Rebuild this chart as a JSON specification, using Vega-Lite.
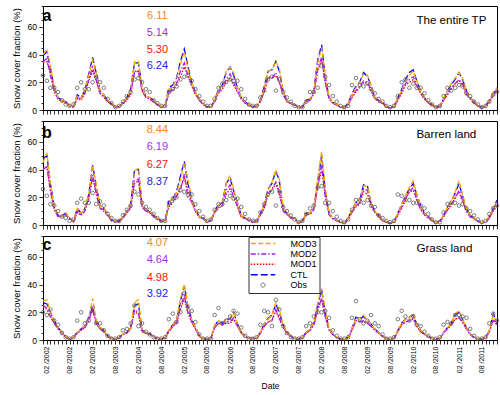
{
"$schema":"https://vega.github.io/schema/vega-lite/v6.json",
"padding":{"left":10,"top":5,"right":2,"bottom":0},
"config":{"font":"Liberation Sans","view":{"stroke":"#000","strokeWidth":1},"axis":{"domainColor":"#000","tickColor":"#000","labelColor":"#000","titleColor":"#000","titleFontWeight":"normal","grid":false,"tickWidth":0.8,"domainWidth":1},"axisY":{"labelOverlap":false,"labelBound":false,"labelFlush":false},"concat":{"spacing":5}},
"datasets":{
"nums":[
{"p":"a","series":"MOD3","t":"6.11","v":67.5},{"p":"a","series":"MOD2","t":"5.14","v":55.5},{"p":"a","series":"MOD1","t":"5.30","v":43.5},{"p":"a","series":"CTL","t":"6.24","v":31.5},
{"p":"b","series":"MOD3","t":"8.44","v":68.5},{"p":"b","series":"MOD2","t":"6.19","v":56},{"p":"b","series":"MOD1","t":"6.27","v":43.5},{"p":"b","series":"CTL","t":"8.37","v":31},
{"p":"c","series":"MOD3","t":"4.07","v":70},{"p":"c","series":"MOD2","t":"4.64","v":57.5},{"p":"c","series":"MOD1","t":"4.98","v":45},{"p":"c","series":"CTL","t":"3.92","v":33}
],
"main":[
{"p":"a","d":"2002-01","MOD3":40,"MOD2":35,"MOD1":34,"CTL":39,"Obs":25},
{"p":"a","d":"2002-02","MOD3":44,"MOD2":37,"MOD1":35,"CTL":42,"Obs":21},
{"p":"a","d":"2002-03","MOD3":32,"MOD2":25,"MOD1":27,"CTL":30,"Obs":16},
{"p":"a","d":"2002-04","MOD3":17,"MOD2":14,"MOD1":13,"CTL":16,"Obs":16},
{"p":"a","d":"2002-05","MOD3":9,"MOD2":8,"MOD1":8,"CTL":9,"Obs":13},
{"p":"a","d":"2002-06","MOD3":7,"MOD2":6.5,"MOD1":6,"CTL":7,"Obs":7},
{"p":"a","d":"2002-07","MOD3":6,"MOD2":5.5,"MOD1":5,"CTL":6,"Obs":4},
{"p":"a","d":"2002-08","MOD3":3,"MOD2":3,"MOD1":3,"CTL":3,"Obs":3},
{"p":"a","d":"2002-09","MOD3":2,"MOD2":2,"MOD1":2,"CTL":2,"Obs":4},
{"p":"a","d":"2002-10","MOD3":10,"MOD2":9,"MOD1":8,"CTL":11,"Obs":16},
{"p":"a","d":"2002-11","MOD3":9,"MOD2":8,"MOD1":7,"CTL":9,"Obs":20},
{"p":"a","d":"2002-12","MOD3":14,"MOD2":12,"MOD1":12,"CTL":14,"Obs":15},
{"p":"a","d":"2003-01","MOD3":25,"MOD2":22,"MOD1":21,"CTL":26,"Obs":15},
{"p":"a","d":"2003-02","MOD3":36,"MOD2":31,"MOD1":28,"CTL":38,"Obs":20},
{"p":"a","d":"2003-03","MOD3":27,"MOD2":22,"MOD1":21,"CTL":27,"Obs":24},
{"p":"a","d":"2003-04","MOD3":14,"MOD2":12,"MOD1":12,"CTL":14,"Obs":20},
{"p":"a","d":"2003-05","MOD3":11,"MOD2":10,"MOD1":9,"CTL":11,"Obs":16},
{"p":"a","d":"2003-06","MOD3":7,"MOD2":6,"MOD1":6,"CTL":7,"Obs":8},
{"p":"a","d":"2003-07","MOD3":4.5,"MOD2":4,"MOD1":4,"CTL":4.5,"Obs":5},
{"p":"a","d":"2003-08","MOD3":2.5,"MOD2":2,"MOD1":2,"CTL":2.5,"Obs":2},
{"p":"a","d":"2003-09","MOD3":2.5,"MOD2":2,"MOD1":2,"CTL":2.5,"Obs":3},
{"p":"a","d":"2003-10","MOD3":5.5,"MOD2":5,"MOD1":4.5,"CTL":5.5,"Obs":6},
{"p":"a","d":"2003-11","MOD3":9,"MOD2":8,"MOD1":7,"CTL":9,"Obs":10},
{"p":"a","d":"2003-12","MOD3":14,"MOD2":12,"MOD1":11,"CTL":15,"Obs":13},
{"p":"a","d":"2004-01","MOD3":35,"MOD2":27,"MOD1":28,"CTL":34,"Obs":22},
{"p":"a","d":"2004-02","MOD3":35,"MOD2":28,"MOD1":28,"CTL":34,"Obs":23},
{"p":"a","d":"2004-03","MOD3":16,"MOD2":14,"MOD1":14,"CTL":16,"Obs":20},
{"p":"a","d":"2004-04","MOD3":10,"MOD2":9,"MOD1":9,"CTL":10,"Obs":15},
{"p":"a","d":"2004-05","MOD3":9,"MOD2":8,"MOD1":8,"CTL":9,"Obs":13},
{"p":"a","d":"2004-06","MOD3":7,"MOD2":6,"MOD1":6,"CTL":7,"Obs":7},
{"p":"a","d":"2004-07","MOD3":4,"MOD2":3.5,"MOD1":3.5,"CTL":4,"Obs":5},
{"p":"a","d":"2004-08","MOD3":2.5,"MOD2":2,"MOD1":2,"CTL":2.5,"Obs":3},
{"p":"a","d":"2004-09","MOD3":3,"MOD2":2.5,"MOD1":2.5,"CTL":3,"Obs":3},
{"p":"a","d":"2004-10","MOD3":15,"MOD2":13,"MOD1":12,"CTL":16,"Obs":13},
{"p":"a","d":"2004-11","MOD3":17,"MOD2":15,"MOD1":14,"CTL":18,"Obs":15},
{"p":"a","d":"2004-12","MOD3":22,"MOD2":19,"MOD1":18,"CTL":23,"Obs":17},
{"p":"a","d":"2005-01","MOD3":33,"MOD2":28,"MOD1":24,"CTL":35,"Obs":22},
{"p":"a","d":"2005-02","MOD3":42,"MOD2":34,"MOD1":31,"CTL":44,"Obs":24},
{"p":"a","d":"2005-03","MOD3":30,"MOD2":25,"MOD1":25,"CTL":32,"Obs":25},
{"p":"a","d":"2005-04","MOD3":20,"MOD2":18,"MOD1":17,"CTL":20,"Obs":21},
{"p":"a","d":"2005-05","MOD3":13,"MOD2":12,"MOD1":11,"CTL":13,"Obs":15},
{"p":"a","d":"2005-06","MOD3":8,"MOD2":7,"MOD1":7,"CTL":8,"Obs":10},
{"p":"a","d":"2005-07","MOD3":4.5,"MOD2":4,"MOD1":4,"CTL":4.5,"Obs":6},
{"p":"a","d":"2005-08","MOD3":2.5,"MOD2":2,"MOD1":2,"CTL":2.5,"Obs":3},
{"p":"a","d":"2005-09","MOD3":2,"MOD2":2,"MOD1":2,"CTL":2,"Obs":3},
{"p":"a","d":"2005-10","MOD3":7,"MOD2":6,"MOD1":6,"CTL":7,"Obs":8},
{"p":"a","d":"2005-11","MOD3":14,"MOD2":13,"MOD1":12,"CTL":15,"Obs":16},
{"p":"a","d":"2005-12","MOD3":18,"MOD2":16,"MOD1":15,"CTL":18,"Obs":19},
{"p":"a","d":"2006-01","MOD3":28,"MOD2":22,"MOD1":20,"CTL":27,"Obs":20},
{"p":"a","d":"2006-02","MOD3":31,"MOD2":26,"MOD1":23,"CTL":31,"Obs":22},
{"p":"a","d":"2006-03","MOD3":27,"MOD2":20,"MOD1":18,"CTL":25,"Obs":21},
{"p":"a","d":"2006-04","MOD3":16,"MOD2":14,"MOD1":13,"CTL":16,"Obs":21},
{"p":"a","d":"2006-05","MOD3":9,"MOD2":8,"MOD1":8,"CTL":9,"Obs":15},
{"p":"a","d":"2006-06","MOD3":6,"MOD2":5,"MOD1":5,"CTL":6,"Obs":8},
{"p":"a","d":"2006-07","MOD3":4,"MOD2":3.5,"MOD1":3.5,"CTL":4,"Obs":4},
{"p":"a","d":"2006-08","MOD3":2.5,"MOD2":2,"MOD1":2,"CTL":2.5,"Obs":3},
{"p":"a","d":"2006-09","MOD3":3,"MOD2":2.5,"MOD1":2.5,"CTL":3,"Obs":3},
{"p":"a","d":"2006-10","MOD3":7,"MOD2":6,"MOD1":6,"CTL":7,"Obs":9},
{"p":"a","d":"2006-11","MOD3":16,"MOD2":14,"MOD1":13,"CTL":17,"Obs":14},
{"p":"a","d":"2006-12","MOD3":28,"MOD2":24,"MOD1":23,"CTL":28,"Obs":22},
{"p":"a","d":"2007-01","MOD3":29,"MOD2":23,"MOD1":23,"CTL":29,"Obs":24},
{"p":"a","d":"2007-02","MOD3":35,"MOD2":27,"MOD1":25,"CTL":35,"Obs":14},
{"p":"a","d":"2007-03","MOD3":30,"MOD2":20,"MOD1":20,"CTL":28,"Obs":22},
{"p":"a","d":"2007-04","MOD3":13,"MOD2":11,"MOD1":11,"CTL":13,"Obs":13},
{"p":"a","d":"2007-05","MOD3":7,"MOD2":6,"MOD1":6,"CTL":7,"Obs":9},
{"p":"a","d":"2007-06","MOD3":5,"MOD2":4.5,"MOD1":4.5,"CTL":5,"Obs":6},
{"p":"a","d":"2007-07","MOD3":4,"MOD2":3.5,"MOD1":3.5,"CTL":4,"Obs":3},
{"p":"a","d":"2007-08","MOD3":2,"MOD2":2,"MOD1":2,"CTL":2,"Obs":2},
{"p":"a","d":"2007-09","MOD3":2.5,"MOD2":2,"MOD1":2,"CTL":2.5,"Obs":2},
{"p":"a","d":"2007-10","MOD3":7,"MOD2":6,"MOD1":6,"CTL":7,"Obs":6},
{"p":"a","d":"2007-11","MOD3":8,"MOD2":7,"MOD1":7,"CTL":8,"Obs":13},
{"p":"a","d":"2007-12","MOD3":14,"MOD2":12,"MOD1":12,"CTL":14,"Obs":13},
{"p":"a","d":"2008-01","MOD3":34,"MOD2":30,"MOD1":28,"CTL":36,"Obs":16},
{"p":"a","d":"2008-02","MOD3":45,"MOD2":38,"MOD1":36,"CTL":47,"Obs":32},
{"p":"a","d":"2008-03","MOD3":26,"MOD2":20,"MOD1":20,"CTL":24,"Obs":24},
{"p":"a","d":"2008-04","MOD3":9,"MOD2":8,"MOD1":8,"CTL":9,"Obs":18},
{"p":"a","d":"2008-05","MOD3":5.5,"MOD2":5,"MOD1":5,"CTL":5.5,"Obs":10},
{"p":"a","d":"2008-06","MOD3":4,"MOD2":3.5,"MOD1":3.5,"CTL":4,"Obs":6},
{"p":"a","d":"2008-07","MOD3":2.5,"MOD2":2,"MOD1":2,"CTL":2.5,"Obs":3},
{"p":"a","d":"2008-08","MOD3":2,"MOD2":1.5,"MOD1":1.5,"CTL":2,"Obs":2},
{"p":"a","d":"2008-09","MOD3":5,"MOD2":4,"MOD1":4,"CTL":5,"Obs":3},
{"p":"a","d":"2008-10","MOD3":11,"MOD2":10,"MOD1":9,"CTL":12,"Obs":18},
{"p":"a","d":"2008-11","MOD3":16,"MOD2":14,"MOD1":13,"CTL":17,"Obs":23},
{"p":"a","d":"2008-12","MOD3":20,"MOD2":17,"MOD1":16,"CTL":20,"Obs":18},
{"p":"a","d":"2009-01","MOD3":26,"MOD2":21,"MOD1":20,"CTL":27,"Obs":17},
{"p":"a","d":"2009-02","MOD3":25,"MOD2":20,"MOD1":19,"CTL":24,"Obs":19},
{"p":"a","d":"2009-03","MOD3":18,"MOD2":15,"MOD1":14,"CTL":18,"Obs":15},
{"p":"a","d":"2009-04","MOD3":9,"MOD2":8,"MOD1":8,"CTL":9,"Obs":12},
{"p":"a","d":"2009-05","MOD3":7,"MOD2":6,"MOD1":6,"CTL":7,"Obs":8},
{"p":"a","d":"2009-06","MOD3":5.5,"MOD2":5,"MOD1":5,"CTL":5.5,"Obs":6},
{"p":"a","d":"2009-07","MOD3":2.5,"MOD2":2,"MOD1":2,"CTL":2.5,"Obs":3},
{"p":"a","d":"2009-08","MOD3":2,"MOD2":1.5,"MOD1":1.5,"CTL":2,"Obs":2},
{"p":"a","d":"2009-09","MOD3":2.5,"MOD2":2,"MOD1":2,"CTL":2.5,"Obs":3},
{"p":"a","d":"2009-10","MOD3":9,"MOD2":8,"MOD1":7,"CTL":9,"Obs":10},
{"p":"a","d":"2009-11","MOD3":14,"MOD2":13,"MOD1":12,"CTL":15,"Obs":20},
{"p":"a","d":"2009-12","MOD3":21,"MOD2":19,"MOD1":18,"CTL":22,"Obs":22},
{"p":"a","d":"2010-01","MOD3":25,"MOD2":22,"MOD1":20,"CTL":27,"Obs":16},
{"p":"a","d":"2010-02","MOD3":28,"MOD2":24,"MOD1":22,"CTL":29,"Obs":19},
{"p":"a","d":"2010-03","MOD3":21,"MOD2":18,"MOD1":17,"CTL":21,"Obs":16},
{"p":"a","d":"2010-04","MOD3":14,"MOD2":12,"MOD1":12,"CTL":14,"Obs":16},
{"p":"a","d":"2010-05","MOD3":9,"MOD2":8,"MOD1":8,"CTL":9,"Obs":12},
{"p":"a","d":"2010-06","MOD3":6,"MOD2":5,"MOD1":5,"CTL":6,"Obs":7},
{"p":"a","d":"2010-07","MOD3":4,"MOD2":3.5,"MOD1":3.5,"CTL":4,"Obs":4},
{"p":"a","d":"2010-08","MOD3":2,"MOD2":1.5,"MOD1":1.5,"CTL":2,"Obs":2},
{"p":"a","d":"2010-09","MOD3":3,"MOD2":2.5,"MOD1":2.5,"CTL":3,"Obs":3},
{"p":"a","d":"2010-10","MOD3":8,"MOD2":7,"MOD1":7,"CTL":8,"Obs":10},
{"p":"a","d":"2010-11","MOD3":14,"MOD2":12,"MOD1":11,"CTL":14,"Obs":16},
{"p":"a","d":"2010-12","MOD3":19,"MOD2":16,"MOD1":15,"CTL":18,"Obs":14},
{"p":"a","d":"2011-01","MOD3":23,"MOD2":19,"MOD1":19,"CTL":22,"Obs":16},
{"p":"a","d":"2011-02","MOD3":27,"MOD2":22,"MOD1":21,"CTL":27,"Obs":18},
{"p":"a","d":"2011-03","MOD3":23,"MOD2":19,"MOD1":18,"CTL":22,"Obs":17},
{"p":"a","d":"2011-04","MOD3":14,"MOD2":12,"MOD1":11,"CTL":14,"Obs":12},
{"p":"a","d":"2011-05","MOD3":9,"MOD2":8,"MOD1":8,"CTL":9,"Obs":10},
{"p":"a","d":"2011-06","MOD3":6,"MOD2":5,"MOD1":5,"CTL":6,"Obs":6},
{"p":"a","d":"2011-07","MOD3":3,"MOD2":3,"MOD1":3,"CTL":3,"Obs":4},
{"p":"a","d":"2011-08","MOD3":2,"MOD2":1.5,"MOD1":1.5,"CTL":2,"Obs":2},
{"p":"a","d":"2011-09","MOD3":3,"MOD2":2.5,"MOD1":2.5,"CTL":3,"Obs":3},
{"p":"a","d":"2011-10","MOD3":7,"MOD2":6,"MOD1":6,"CTL":7,"Obs":6},
{"p":"a","d":"2011-11","MOD3":12,"MOD2":11,"MOD1":10,"CTL":12,"Obs":11},
{"p":"a","d":"2011-12","MOD3":16,"MOD2":14,"MOD1":14,"CTL":16,"Obs":13},
{"p":"b","d":"2002-01","MOD3":45,"MOD2":40,"MOD1":41,"CTL":48,"Obs":26},
{"p":"b","d":"2002-02","MOD3":52,"MOD2":42,"MOD1":42,"CTL":50,"Obs":21},
{"p":"b","d":"2002-03","MOD3":30,"MOD2":24,"MOD1":26,"CTL":30,"Obs":15},
{"p":"b","d":"2002-04","MOD3":13,"MOD2":11,"MOD1":11,"CTL":13,"Obs":14},
{"p":"b","d":"2002-05","MOD3":7,"MOD2":6,"MOD1":6,"CTL":7,"Obs":10},
{"p":"b","d":"2002-06","MOD3":6.5,"MOD2":6,"MOD1":6,"CTL":6.5,"Obs":6},
{"p":"b","d":"2002-07","MOD3":8.5,"MOD2":7.5,"MOD1":7.5,"CTL":8.5,"Obs":5},
{"p":"b","d":"2002-08","MOD3":5,"MOD2":4.5,"MOD1":4.5,"CTL":5,"Obs":3},
{"p":"b","d":"2002-09","MOD3":2.5,"MOD2":2,"MOD1":2,"CTL":2.5,"Obs":4},
{"p":"b","d":"2002-10","MOD3":12,"MOD2":10,"MOD1":9,"CTL":12,"Obs":16},
{"p":"b","d":"2002-11","MOD3":8.5,"MOD2":7.5,"MOD1":7,"CTL":8.5,"Obs":19},
{"p":"b","d":"2002-12","MOD3":12,"MOD2":10,"MOD1":10,"CTL":12,"Obs":16},
{"p":"b","d":"2003-01","MOD3":22,"MOD2":19,"MOD1":19,"CTL":22,"Obs":16},
{"p":"b","d":"2003-02","MOD3":43,"MOD2":36,"MOD1":34,"CTL":43,"Obs":23},
{"p":"b","d":"2003-03","MOD3":30,"MOD2":22,"MOD1":24,"CTL":28,"Obs":15},
{"p":"b","d":"2003-04","MOD3":14,"MOD2":12,"MOD1":12,"CTL":14,"Obs":17},
{"p":"b","d":"2003-05","MOD3":12,"MOD2":11,"MOD1":10,"CTL":12,"Obs":14},
{"p":"b","d":"2003-06","MOD3":8.5,"MOD2":7.5,"MOD1":7,"CTL":8.5,"Obs":8},
{"p":"b","d":"2003-07","MOD3":3.6,"MOD2":3,"MOD1":3,"CTL":3.6,"Obs":5},
{"p":"b","d":"2003-08","MOD3":3,"MOD2":2.5,"MOD1":2.5,"CTL":3,"Obs":3},
{"p":"b","d":"2003-09","MOD3":3,"MOD2":2.5,"MOD1":2.5,"CTL":3,"Obs":3},
{"p":"b","d":"2003-10","MOD3":6,"MOD2":5,"MOD1":5,"CTL":6,"Obs":7},
{"p":"b","d":"2003-11","MOD3":10,"MOD2":9,"MOD1":8.5,"CTL":10,"Obs":11},
{"p":"b","d":"2003-12","MOD3":14.5,"MOD2":13,"MOD1":12,"CTL":15,"Obs":14},
{"p":"b","d":"2004-01","MOD3":39,"MOD2":32,"MOD1":30,"CTL":40,"Obs":24},
{"p":"b","d":"2004-02","MOD3":41,"MOD2":33,"MOD1":32,"CTL":40,"Obs":22},
{"p":"b","d":"2004-03","MOD3":15,"MOD2":13,"MOD1":13,"CTL":15,"Obs":16},
{"p":"b","d":"2004-04","MOD3":11,"MOD2":10,"MOD1":10,"CTL":11,"Obs":13},
{"p":"b","d":"2004-05","MOD3":10,"MOD2":9,"MOD1":9,"CTL":10,"Obs":11},
{"p":"b","d":"2004-06","MOD3":7,"MOD2":6,"MOD1":6,"CTL":7,"Obs":8},
{"p":"b","d":"2004-07","MOD3":5,"MOD2":4.5,"MOD1":4.5,"CTL":5,"Obs":5},
{"p":"b","d":"2004-08","MOD3":3,"MOD2":2.5,"MOD1":2.5,"CTL":3,"Obs":3},
{"p":"b","d":"2004-09","MOD3":3.6,"MOD2":3,"MOD1":3,"CTL":3.6,"Obs":3},
{"p":"b","d":"2004-10","MOD3":16,"MOD2":14,"MOD1":13,"CTL":17,"Obs":16},
{"p":"b","d":"2004-11","MOD3":19,"MOD2":17,"MOD1":16,"CTL":19,"Obs":19},
{"p":"b","d":"2004-12","MOD3":23,"MOD2":21,"MOD1":20,"CTL":24,"Obs":20},
{"p":"b","d":"2005-01","MOD3":33,"MOD2":25,"MOD1":27,"CTL":35,"Obs":25},
{"p":"b","d":"2005-02","MOD3":45,"MOD2":37,"MOD1":34,"CTL":46,"Obs":24},
{"p":"b","d":"2005-03","MOD3":33,"MOD2":20,"MOD1":25,"CTL":30,"Obs":22},
{"p":"b","d":"2005-04","MOD3":19,"MOD2":17,"MOD1":16,"CTL":19,"Obs":22},
{"p":"b","d":"2005-05","MOD3":11,"MOD2":10,"MOD1":10,"CTL":11,"Obs":15},
{"p":"b","d":"2005-06","MOD3":6,"MOD2":5.5,"MOD1":5.5,"CTL":6,"Obs":10},
{"p":"b","d":"2005-07","MOD3":5,"MOD2":4.5,"MOD1":4.5,"CTL":5,"Obs":6},
{"p":"b","d":"2005-08","MOD3":2.5,"MOD2":2,"MOD1":2,"CTL":2.5,"Obs":3},
{"p":"b","d":"2005-09","MOD3":3.6,"MOD2":3,"MOD1":3,"CTL":3.6,"Obs":4},
{"p":"b","d":"2005-10","MOD3":10,"MOD2":9,"MOD1":9,"CTL":10,"Obs":11},
{"p":"b","d":"2005-11","MOD3":14.5,"MOD2":13,"MOD1":12,"CTL":15,"Obs":15},
{"p":"b","d":"2005-12","MOD3":16,"MOD2":14,"MOD1":14,"CTL":16,"Obs":15},
{"p":"b","d":"2006-01","MOD3":30,"MOD2":25,"MOD1":22,"CTL":30,"Obs":18},
{"p":"b","d":"2006-02","MOD3":36,"MOD2":29,"MOD1":26,"CTL":34,"Obs":21},
{"p":"b","d":"2006-03","MOD3":26,"MOD2":20,"MOD1":20,"CTL":25,"Obs":19},
{"p":"b","d":"2006-04","MOD3":16,"MOD2":14,"MOD1":13,"CTL":16,"Obs":19},
{"p":"b","d":"2006-05","MOD3":7,"MOD2":6,"MOD1":6,"CTL":7,"Obs":13},
{"p":"b","d":"2006-06","MOD3":5,"MOD2":4.5,"MOD1":4.5,"CTL":5,"Obs":8},
{"p":"b","d":"2006-07","MOD3":4,"MOD2":3.5,"MOD1":3.5,"CTL":4,"Obs":4},
{"p":"b","d":"2006-08","MOD3":2.5,"MOD2":2,"MOD1":2,"CTL":2.5,"Obs":3},
{"p":"b","d":"2006-09","MOD3":3,"MOD2":2.5,"MOD1":2.5,"CTL":3,"Obs":3},
{"p":"b","d":"2006-10","MOD3":8.5,"MOD2":7.5,"MOD1":7,"CTL":8.5,"Obs":9},
{"p":"b","d":"2006-11","MOD3":14.5,"MOD2":13,"MOD1":12,"CTL":15,"Obs":15},
{"p":"b","d":"2006-12","MOD3":25,"MOD2":23,"MOD1":22,"CTL":26,"Obs":22},
{"p":"b","d":"2007-01","MOD3":31,"MOD2":26,"MOD1":25,"CTL":30,"Obs":24},
{"p":"b","d":"2007-02","MOD3":40,"MOD2":31,"MOD1":30,"CTL":39,"Obs":14},
{"p":"b","d":"2007-03","MOD3":33,"MOD2":24,"MOD1":22,"CTL":32,"Obs":24},
{"p":"b","d":"2007-04","MOD3":12,"MOD2":10,"MOD1":10,"CTL":12,"Obs":13},
{"p":"b","d":"2007-05","MOD3":8.5,"MOD2":7.5,"MOD1":7.5,"CTL":8.5,"Obs":10},
{"p":"b","d":"2007-06","MOD3":5.6,"MOD2":5,"MOD1":5,"CTL":5.6,"Obs":7},
{"p":"b","d":"2007-07","MOD3":5,"MOD2":4.5,"MOD1":4.5,"CTL":5,"Obs":4},
{"p":"b","d":"2007-08","MOD3":1.7,"MOD2":1.5,"MOD1":1.5,"CTL":1.7,"Obs":2},
{"p":"b","d":"2007-09","MOD3":3,"MOD2":2.5,"MOD1":2.5,"CTL":3,"Obs":3},
{"p":"b","d":"2007-10","MOD3":8.5,"MOD2":7.5,"MOD1":7,"CTL":8.5,"Obs":8},
{"p":"b","d":"2007-11","MOD3":9,"MOD2":8,"MOD1":8,"CTL":9,"Obs":12},
{"p":"b","d":"2007-12","MOD3":12,"MOD2":11,"MOD1":11,"CTL":12,"Obs":14},
{"p":"b","d":"2008-01","MOD3":33,"MOD2":28,"MOD1":27,"CTL":31,"Obs":27},
{"p":"b","d":"2008-02","MOD3":53,"MOD2":43,"MOD1":40,"CTL":50,"Obs":28},
{"p":"b","d":"2008-03","MOD3":27,"MOD2":20,"MOD1":22,"CTL":25,"Obs":16},
{"p":"b","d":"2008-04","MOD3":8.5,"MOD2":7.5,"MOD1":7.5,"CTL":8.5,"Obs":16},
{"p":"b","d":"2008-05","MOD3":5,"MOD2":4.5,"MOD1":4.5,"CTL":5,"Obs":10},
{"p":"b","d":"2008-06","MOD3":3.6,"MOD2":3,"MOD1":3,"CTL":3.6,"Obs":6},
{"p":"b","d":"2008-07","MOD3":2.4,"MOD2":2,"MOD1":2,"CTL":2.4,"Obs":3},
{"p":"b","d":"2008-08","MOD3":1.2,"MOD2":1,"MOD1":1,"CTL":1.2,"Obs":2},
{"p":"b","d":"2008-09","MOD3":5,"MOD2":4.5,"MOD1":4.5,"CTL":5,"Obs":4},
{"p":"b","d":"2008-10","MOD3":11,"MOD2":10,"MOD1":9,"CTL":11,"Obs":11},
{"p":"b","d":"2008-11","MOD3":16,"MOD2":14,"MOD1":13,"CTL":16,"Obs":18},
{"p":"b","d":"2008-12","MOD3":18,"MOD2":16,"MOD1":15,"CTL":18,"Obs":18},
{"p":"b","d":"2009-01","MOD3":28,"MOD2":26,"MOD1":24,"CTL":29,"Obs":16},
{"p":"b","d":"2009-02","MOD3":28,"MOD2":25,"MOD1":22,"CTL":28,"Obs":18},
{"p":"b","d":"2009-03","MOD3":16,"MOD2":14,"MOD1":14,"CTL":16,"Obs":14},
{"p":"b","d":"2009-04","MOD3":10,"MOD2":9,"MOD1":9,"CTL":10,"Obs":13},
{"p":"b","d":"2009-05","MOD3":7,"MOD2":6,"MOD1":6,"CTL":7,"Obs":7},
{"p":"b","d":"2009-06","MOD3":3.6,"MOD2":3,"MOD1":3,"CTL":3.6,"Obs":5},
{"p":"b","d":"2009-07","MOD3":2.4,"MOD2":2,"MOD1":2,"CTL":2.4,"Obs":3},
{"p":"b","d":"2009-08","MOD3":1.2,"MOD2":1,"MOD1":1,"CTL":1.2,"Obs":2},
{"p":"b","d":"2009-09","MOD3":2.4,"MOD2":2,"MOD1":2,"CTL":2.4,"Obs":3},
{"p":"b","d":"2009-10","MOD3":8.5,"MOD2":7.5,"MOD1":7,"CTL":8.5,"Obs":22},
{"p":"b","d":"2009-11","MOD3":14.5,"MOD2":13,"MOD1":12,"CTL":15,"Obs":21},
{"p":"b","d":"2009-12","MOD3":21,"MOD2":19,"MOD1":18,"CTL":21,"Obs":18},
{"p":"b","d":"2010-01","MOD3":27,"MOD2":24,"MOD1":24,"CTL":26,"Obs":18},
{"p":"b","d":"2010-02","MOD3":32,"MOD2":27,"MOD1":25,"CTL":30,"Obs":16},
{"p":"b","d":"2010-03","MOD3":22,"MOD2":19,"MOD1":18,"CTL":22,"Obs":16},
{"p":"b","d":"2010-04","MOD3":14,"MOD2":12,"MOD1":11,"CTL":14,"Obs":14},
{"p":"b","d":"2010-05","MOD3":8.5,"MOD2":7.5,"MOD1":7.5,"CTL":8.5,"Obs":12},
{"p":"b","d":"2010-06","MOD3":6,"MOD2":5,"MOD1":5,"CTL":6,"Obs":8},
{"p":"b","d":"2010-07","MOD3":4,"MOD2":3.5,"MOD1":3.5,"CTL":4,"Obs":4},
{"p":"b","d":"2010-08","MOD3":1.5,"MOD2":1.5,"MOD1":1.5,"CTL":1.5,"Obs":2},
{"p":"b","d":"2010-09","MOD3":3,"MOD2":2.5,"MOD1":2.5,"CTL":3,"Obs":2},
{"p":"b","d":"2010-10","MOD3":7,"MOD2":6,"MOD1":6,"CTL":7,"Obs":9},
{"p":"b","d":"2010-11","MOD3":13,"MOD2":11,"MOD1":11,"CTL":13,"Obs":15},
{"p":"b","d":"2010-12","MOD3":17,"MOD2":15,"MOD1":14,"CTL":17,"Obs":16},
{"p":"b","d":"2011-01","MOD3":24,"MOD2":19,"MOD1":20,"CTL":23,"Obs":16},
{"p":"b","d":"2011-02","MOD3":32,"MOD2":25,"MOD1":24,"CTL":30,"Obs":14},
{"p":"b","d":"2011-03","MOD3":22,"MOD2":18,"MOD1":17,"CTL":21,"Obs":15},
{"p":"b","d":"2011-04","MOD3":12,"MOD2":10,"MOD1":10,"CTL":12,"Obs":12},
{"p":"b","d":"2011-05","MOD3":7,"MOD2":6,"MOD1":6,"CTL":7,"Obs":10},
{"p":"b","d":"2011-06","MOD3":5,"MOD2":4.5,"MOD1":4.5,"CTL":5,"Obs":7},
{"p":"b","d":"2011-07","MOD3":3,"MOD2":2.5,"MOD1":2.5,"CTL":3,"Obs":4},
{"p":"b","d":"2011-08","MOD3":1.5,"MOD2":1.5,"MOD1":1.5,"CTL":1.5,"Obs":2},
{"p":"b","d":"2011-09","MOD3":2.5,"MOD2":2,"MOD1":2,"CTL":2.5,"Obs":3},
{"p":"b","d":"2011-10","MOD3":6,"MOD2":5,"MOD1":5,"CTL":6,"Obs":8},
{"p":"b","d":"2011-11","MOD3":12,"MOD2":11,"MOD1":10,"CTL":12,"Obs":12},
{"p":"b","d":"2011-12","MOD3":17,"MOD2":15,"MOD1":14,"CTL":18,"Obs":14},
{"p":"c","d":"2002-01","MOD3":28,"MOD2":25,"MOD1":24,"CTL":27,"Obs":20},
{"p":"c","d":"2002-02","MOD3":29,"MOD2":23,"MOD1":22,"CTL":26,"Obs":18},
{"p":"c","d":"2002-03","MOD3":20,"MOD2":17,"MOD1":17,"CTL":20,"Obs":22},
{"p":"c","d":"2002-04","MOD3":14,"MOD2":12,"MOD1":12,"CTL":14,"Obs":14},
{"p":"c","d":"2002-05","MOD3":9,"MOD2":8,"MOD1":8,"CTL":9,"Obs":11},
{"p":"c","d":"2002-06","MOD3":5.5,"MOD2":5,"MOD1":5,"CTL":5.5,"Obs":5},
{"p":"c","d":"2002-07","MOD3":2.4,"MOD2":2,"MOD1":2,"CTL":2.4,"Obs":2},
{"p":"c","d":"2002-08","MOD3":0.7,"MOD2":0.5,"MOD1":0.5,"CTL":0.7,"Obs":1},
{"p":"c","d":"2002-09","MOD3":2,"MOD2":1.5,"MOD1":1.5,"CTL":2,"Obs":2},
{"p":"c","d":"2002-10","MOD3":5.5,"MOD2":5,"MOD1":5,"CTL":5.5,"Obs":14},
{"p":"c","d":"2002-11","MOD3":8,"MOD2":7,"MOD1":7,"CTL":8,"Obs":20},
{"p":"c","d":"2002-12","MOD3":10.4,"MOD2":9,"MOD1":9,"CTL":10.4,"Obs":12},
{"p":"c","d":"2003-01","MOD3":16.5,"MOD2":14,"MOD1":14,"CTL":16.5,"Obs":14},
{"p":"c","d":"2003-02","MOD3":30,"MOD2":22,"MOD1":22,"CTL":24,"Obs":23},
{"p":"c","d":"2003-03","MOD3":14,"MOD2":12,"MOD1":12,"CTL":14,"Obs":12},
{"p":"c","d":"2003-04","MOD3":9,"MOD2":8,"MOD1":8,"CTL":9,"Obs":12},
{"p":"c","d":"2003-05","MOD3":7,"MOD2":6,"MOD1":6,"CTL":7,"Obs":7},
{"p":"c","d":"2003-06","MOD3":3,"MOD2":2.5,"MOD1":2.5,"CTL":3,"Obs":3},
{"p":"c","d":"2003-07","MOD3":1.2,"MOD2":1,"MOD1":1,"CTL":1.2,"Obs":1},
{"p":"c","d":"2003-08","MOD3":0.7,"MOD2":0.5,"MOD1":0.5,"CTL":0.7,"Obs":1},
{"p":"c","d":"2003-09","MOD3":2,"MOD2":1.5,"MOD1":1.5,"CTL":2,"Obs":2},
{"p":"c","d":"2003-10","MOD3":4.4,"MOD2":4,"MOD1":4,"CTL":4.4,"Obs":7},
{"p":"c","d":"2003-11","MOD3":5.5,"MOD2":5,"MOD1":5,"CTL":5.5,"Obs":8},
{"p":"c","d":"2003-12","MOD3":9,"MOD2":8,"MOD1":8,"CTL":9,"Obs":12},
{"p":"c","d":"2004-01","MOD3":27,"MOD2":22,"MOD1":21,"CTL":25,"Obs":25},
{"p":"c","d":"2004-02","MOD3":29,"MOD2":20,"MOD1":18,"CTL":26,"Obs":10},
{"p":"c","d":"2004-03","MOD3":7,"MOD2":6,"MOD1":6,"CTL":7,"Obs":12},
{"p":"c","d":"2004-04","MOD3":5.5,"MOD2":5,"MOD1":5,"CTL":5.5,"Obs":6},
{"p":"c","d":"2004-05","MOD3":4.4,"MOD2":4,"MOD1":4,"CTL":4.4,"Obs":4},
{"p":"c","d":"2004-06","MOD3":2.7,"MOD2":2.5,"MOD1":2.5,"CTL":2.7,"Obs":2},
{"p":"c","d":"2004-07","MOD3":1.2,"MOD2":1,"MOD1":1,"CTL":1.2,"Obs":1},
{"p":"c","d":"2004-08","MOD3":0.7,"MOD2":0.5,"MOD1":0.5,"CTL":0.7,"Obs":1},
{"p":"c","d":"2004-09","MOD3":2,"MOD2":1.5,"MOD1":1.5,"CTL":2,"Obs":2},
{"p":"c","d":"2004-10","MOD3":7,"MOD2":6,"MOD1":6,"CTL":7,"Obs":15},
{"p":"c","d":"2004-11","MOD3":11,"MOD2":10,"MOD1":10,"CTL":11,"Obs":19},
{"p":"c","d":"2004-12","MOD3":14,"MOD2":12,"MOD1":12,"CTL":14,"Obs":13},
{"p":"c","d":"2005-01","MOD3":30,"MOD2":24,"MOD1":22,"CTL":28,"Obs":20},
{"p":"c","d":"2005-02","MOD3":40,"MOD2":32,"MOD1":30,"CTL":39,"Obs":34},
{"p":"c","d":"2005-03","MOD3":26,"MOD2":20,"MOD1":20,"CTL":24,"Obs":24},
{"p":"c","d":"2005-04","MOD3":15,"MOD2":13,"MOD1":13,"CTL":15,"Obs":21},
{"p":"c","d":"2005-05","MOD3":9,"MOD2":8,"MOD1":8,"CTL":9,"Obs":13},
{"p":"c","d":"2005-06","MOD3":3,"MOD2":2.5,"MOD1":2.5,"CTL":3,"Obs":4},
{"p":"c","d":"2005-07","MOD3":1.2,"MOD2":1,"MOD1":1,"CTL":1.2,"Obs":1},
{"p":"c","d":"2005-08","MOD3":0.7,"MOD2":0.5,"MOD1":0.5,"CTL":0.7,"Obs":1},
{"p":"c","d":"2005-09","MOD3":1.2,"MOD2":1,"MOD1":1,"CTL":1.2,"Obs":1},
{"p":"c","d":"2005-10","MOD3":10.4,"MOD2":9,"MOD1":9,"CTL":10.4,"Obs":18},
{"p":"c","d":"2005-11","MOD3":14,"MOD2":12,"MOD1":12,"CTL":14,"Obs":23},
{"p":"c","d":"2005-12","MOD3":12,"MOD2":11,"MOD1":11,"CTL":12,"Obs":12},
{"p":"c","d":"2006-01","MOD3":15,"MOD2":13,"MOD1":12,"CTL":15,"Obs":14},
{"p":"c","d":"2006-02","MOD3":16,"MOD2":13,"MOD1":12,"CTL":15,"Obs":17},
{"p":"c","d":"2006-03","MOD3":20,"MOD2":16,"MOD1":15,"CTL":20,"Obs":21},
{"p":"c","d":"2006-04","MOD3":11.6,"MOD2":10,"MOD1":10,"CTL":11.6,"Obs":19},
{"p":"c","d":"2006-05","MOD3":5.5,"MOD2":5,"MOD1":5,"CTL":5.5,"Obs":9},
{"p":"c","d":"2006-06","MOD3":3,"MOD2":2.5,"MOD1":2.5,"CTL":3,"Obs":3},
{"p":"c","d":"2006-07","MOD3":1.5,"MOD2":1.2,"MOD1":1.2,"CTL":1.5,"Obs":1},
{"p":"c","d":"2006-08","MOD3":1.2,"MOD2":1,"MOD1":1,"CTL":1.2,"Obs":1},
{"p":"c","d":"2006-09","MOD3":1.5,"MOD2":1.2,"MOD1":1.2,"CTL":1.5,"Obs":2},
{"p":"c","d":"2006-10","MOD3":5.5,"MOD2":5,"MOD1":5,"CTL":5.5,"Obs":11},
{"p":"c","d":"2006-11","MOD3":11.6,"MOD2":10,"MOD1":10,"CTL":11.6,"Obs":21},
{"p":"c","d":"2006-12","MOD3":15,"MOD2":13,"MOD1":13,"CTL":15.7,"Obs":20},
{"p":"c","d":"2007-01","MOD3":18,"MOD2":14,"MOD1":14,"CTL":18,"Obs":10},
{"p":"c","d":"2007-02","MOD3":27,"MOD2":22,"MOD1":21,"CTL":26,"Obs":29},
{"p":"c","d":"2007-03","MOD3":22,"MOD2":16,"MOD1":15,"CTL":20,"Obs":22},
{"p":"c","d":"2007-04","MOD3":10.4,"MOD2":9,"MOD1":9,"CTL":10.4,"Obs":10},
{"p":"c","d":"2007-05","MOD3":5.5,"MOD2":5,"MOD1":5,"CTL":5.5,"Obs":5},
{"p":"c","d":"2007-06","MOD3":3,"MOD2":2.5,"MOD1":2.5,"CTL":3,"Obs":2},
{"p":"c","d":"2007-07","MOD3":1.2,"MOD2":1,"MOD1":1,"CTL":1.2,"Obs":1},
{"p":"c","d":"2007-08","MOD3":0.7,"MOD2":0.5,"MOD1":0.5,"CTL":0.7,"Obs":1},
{"p":"c","d":"2007-09","MOD3":2,"MOD2":1.5,"MOD1":1.5,"CTL":2,"Obs":2},
{"p":"c","d":"2007-10","MOD3":5.5,"MOD2":5,"MOD1":5,"CTL":5.5,"Obs":10},
{"p":"c","d":"2007-11","MOD3":8,"MOD2":7,"MOD1":7,"CTL":8,"Obs":12},
{"p":"c","d":"2007-12","MOD3":12.8,"MOD2":11,"MOD1":11,"CTL":12.8,"Obs":17},
{"p":"c","d":"2008-01","MOD3":27,"MOD2":22,"MOD1":21,"CTL":25,"Obs":20},
{"p":"c","d":"2008-02","MOD3":37,"MOD2":30,"MOD1":30,"CTL":36,"Obs":20},
{"p":"c","d":"2008-03","MOD3":22,"MOD2":17,"MOD1":17,"CTL":20,"Obs":21},
{"p":"c","d":"2008-04","MOD3":8,"MOD2":7,"MOD1":7,"CTL":8,"Obs":16},
{"p":"c","d":"2008-05","MOD3":4.4,"MOD2":4,"MOD1":4,"CTL":4.4,"Obs":7},
{"p":"c","d":"2008-06","MOD3":2,"MOD2":1.5,"MOD1":1.5,"CTL":2,"Obs":3},
{"p":"c","d":"2008-07","MOD3":0.7,"MOD2":0.5,"MOD1":0.5,"CTL":0.7,"Obs":1},
{"p":"c","d":"2008-08","MOD3":0.7,"MOD2":0.5,"MOD1":0.5,"CTL":0.7,"Obs":1},
{"p":"c","d":"2008-09","MOD3":2,"MOD2":1.5,"MOD1":1.5,"CTL":2,"Obs":2},
{"p":"c","d":"2008-10","MOD3":8.5,"MOD2":7.5,"MOD1":7,"CTL":8.5,"Obs":16},
{"p":"c","d":"2008-11","MOD3":16,"MOD2":14,"MOD1":14,"CTL":16.5,"Obs":28},
{"p":"c","d":"2008-12","MOD3":15,"MOD2":13,"MOD1":13,"CTL":15,"Obs":15},
{"p":"c","d":"2009-01","MOD3":18,"MOD2":14,"MOD1":13,"CTL":17,"Obs":12},
{"p":"c","d":"2009-02","MOD3":14,"MOD2":12,"MOD1":12,"CTL":14,"Obs":14},
{"p":"c","d":"2009-03","MOD3":11.6,"MOD2":10,"MOD1":10,"CTL":11.6,"Obs":18},
{"p":"c","d":"2009-04","MOD3":8,"MOD2":7,"MOD1":7,"CTL":8,"Obs":12},
{"p":"c","d":"2009-05","MOD3":5.5,"MOD2":5,"MOD1":5,"CTL":5.5,"Obs":10},
{"p":"c","d":"2009-06","MOD3":2.7,"MOD2":2.5,"MOD1":2.5,"CTL":2.7,"Obs":4},
{"p":"c","d":"2009-07","MOD3":1.2,"MOD2":1,"MOD1":1,"CTL":1.2,"Obs":1},
{"p":"c","d":"2009-08","MOD3":0.7,"MOD2":0.5,"MOD1":0.5,"CTL":0.7,"Obs":1},
{"p":"c","d":"2009-09","MOD3":1.2,"MOD2":1,"MOD1":1,"CTL":1.2,"Obs":2},
{"p":"c","d":"2009-10","MOD3":6.8,"MOD2":6,"MOD1":6,"CTL":6.8,"Obs":15},
{"p":"c","d":"2009-11","MOD3":12.3,"MOD2":11,"MOD1":11,"CTL":12.3,"Obs":21},
{"p":"c","d":"2009-12","MOD3":15,"MOD2":13,"MOD1":13,"CTL":15,"Obs":17},
{"p":"c","d":"2010-01","MOD3":16.5,"MOD2":14,"MOD1":14,"CTL":16.5,"Obs":14},
{"p":"c","d":"2010-02","MOD3":19,"MOD2":16,"MOD1":15,"CTL":18,"Obs":17},
{"p":"c","d":"2010-03","MOD3":11.6,"MOD2":10,"MOD1":10,"CTL":11.6,"Obs":11},
{"p":"c","d":"2010-04","MOD3":6.8,"MOD2":6,"MOD1":6,"CTL":6.8,"Obs":10},
{"p":"c","d":"2010-05","MOD3":4.4,"MOD2":4,"MOD1":4,"CTL":4.4,"Obs":6},
{"p":"c","d":"2010-06","MOD3":2.7,"MOD2":2.5,"MOD1":2.5,"CTL":2.7,"Obs":3},
{"p":"c","d":"2010-07","MOD3":1.2,"MOD2":1,"MOD1":1,"CTL":1.2,"Obs":1},
{"p":"c","d":"2010-08","MOD3":0.7,"MOD2":0.5,"MOD1":0.5,"CTL":0.7,"Obs":1},
{"p":"c","d":"2010-09","MOD3":1.2,"MOD2":1,"MOD1":1,"CTL":1.2,"Obs":2},
{"p":"c","d":"2010-10","MOD3":5.5,"MOD2":5,"MOD1":5,"CTL":5.5,"Obs":11},
{"p":"c","d":"2010-11","MOD3":9,"MOD2":8,"MOD1":8,"CTL":9,"Obs":13},
{"p":"c","d":"2010-12","MOD3":12.3,"MOD2":11,"MOD1":11,"CTL":12.3,"Obs":12},
{"p":"c","d":"2011-01","MOD3":19,"MOD2":15,"MOD1":15,"CTL":18,"Obs":18},
{"p":"c","d":"2011-02","MOD3":21,"MOD2":16,"MOD1":16,"CTL":20,"Obs":18},
{"p":"c","d":"2011-03","MOD3":15,"MOD2":13,"MOD1":13,"CTL":15,"Obs":17},
{"p":"c","d":"2011-04","MOD3":9,"MOD2":8,"MOD1":8,"CTL":9,"Obs":16},
{"p":"c","d":"2011-05","MOD3":4.4,"MOD2":4,"MOD1":4,"CTL":4.4,"Obs":8},
{"p":"c","d":"2011-06","MOD3":2,"MOD2":1.5,"MOD1":1.5,"CTL":2,"Obs":3},
{"p":"c","d":"2011-07","MOD3":0.7,"MOD2":0.5,"MOD1":0.5,"CTL":0.7,"Obs":1},
{"p":"c","d":"2011-08","MOD3":0.7,"MOD2":0.5,"MOD1":0.5,"CTL":0.7,"Obs":1},
{"p":"c","d":"2011-09","MOD3":2,"MOD2":1.5,"MOD1":1.5,"CTL":2,"Obs":2},
{"p":"c","d":"2011-10","MOD3":6.8,"MOD2":6,"MOD1":6,"CTL":6.8,"Obs":12},
{"p":"c","d":"2011-11","MOD3":18,"MOD2":15,"MOD1":14,"CTL":19,"Obs":19},
{"p":"c","d":"2011-12","MOD3":12.3,"MOD2":11,"MOD1":11,"CTL":12.3,"Obs":14}
]},
"resolve":{"scale":{"color":"independent","strokeDash":"independent","fill":"independent"}},
"vconcat":[
{"width":454,"height":104,"resolve":{"axis":{"y":"independent"}},"layer":[
 {"data":{"name":"main"},"transform":[{"filter":"datum.p === 'a'"},{"fold":["CTL","MOD1","MOD2","MOD3"],"as":["series","v"]}],
  "mark":{"type":"line","strokeWidth":1.3},
  "encoding":{
   "x":{"field":"d","type":"temporal","scale":{"type":"utc","domain":[{"year":2002,"month":1,"date":1,"utc":true},{"year":2011,"month":12,"date":1,"utc":true}]},"axis":{"title":null,"labels":false,"tickCount":{"interval":"month","step":1},"tickSize":4}},
   "y":{"field":"v","type":"quantitative","scale":{"domain":[0,75],"nice":false},"axis":{"orient":"left","title":"Snow cover fraction (%)","values":[0,20,40,60],"tickCount":20,"tickSize":4,"labelFontSize":8.5,"titleFontSize":9.5,"labelPadding":2.5,"titlePadding":6}},
   "color":{"field":"series","type":"nominal","scale":{"domain":["MOD3","MOD2","MOD1","CTL","Obs"],"range":["#FFA500","#A020F0","#FF0000","#0000FF","#555555"]},"legend":null},
   "strokeDash":{"field":"series","type":"nominal","scale":{"domain":["MOD3","MOD2","MOD1","CTL","Obs"],"range":[[5,2.5],[5,2,1.5,2],[1.5,1.5],[7,3],[1,0]]},"legend":null}
  }},
 {"data":{"name":"main"},"transform":[{"filter":"datum.p === 'a'"}],
  "mark":{"type":"point","shape":"circle","size":13,"strokeWidth":0.8,"color":"#606060","filled":false,"opacity":1},
  "encoding":{"x":{"field":"d","type":"temporal"},"y":{"field":"Obs","type":"quantitative","axis":{"orient":"left","values":[5,10,15,25,30,35,45,50,55,65,70,75],"tickCount":100,"labels":false,"tickSize":2,"domain":false,"title":null}}}},
 {"data":{"name":"nums"},"transform":[{"filter":"datum.p === 'a'"}],
  "mark":{"type":"text","fontSize":11,"align":"center","baseline":"middle"},
  "encoding":{"x":{"datum":{"year":2004,"month":7,"date":1,"utc":true},"type":"temporal"},"y":{"field":"v","type":"quantitative","axis":null},"text":{"field":"t"},
   "fill":{"field":"series","type":"nominal","scale":{"domain":["MOD3","MOD2","MOD1","CTL"],"range":["#F5871F","#A030F0","#FF1010","#2020F0"]},"legend":null}}},
 {"data":{"values":[{"t":"a"}]},"mark":{"type":"text","fontSize":16,"fontWeight":"bold","align":"center","baseline":"middle","color":"#000"},
  "encoding":{"x":{"datum":{"year":2002,"month":2,"date":1,"utc":true},"type":"temporal"},"y":{"datum":67.8,"type":"quantitative","axis":null},"text":{"field":"t"}}},
 {"data":{"values":[{"t":"The entire TP"}]},"mark":{"type":"text","fontSize":11.6,"align":"left","baseline":"middle","color":"#000"},
  "encoding":{"x":{"datum":{"year":2010,"month":2,"date":26,"utc":true},"type":"temporal"},"y":{"datum":64.2,"type":"quantitative","axis":null},"text":{"field":"t"}}}
]},
{"width":454,"height":104,"resolve":{"axis":{"y":"independent"}},"layer":[
 {"data":{"name":"main"},"transform":[{"filter":"datum.p === 'b'"},{"fold":["CTL","MOD1","MOD2","MOD3"],"as":["series","v"]}],
  "mark":{"type":"line","strokeWidth":1.3},
  "encoding":{
   "x":{"field":"d","type":"temporal","scale":{"type":"utc","domain":[{"year":2002,"month":1,"date":1,"utc":true},{"year":2011,"month":12,"date":1,"utc":true}]},"axis":{"title":null,"labels":false,"tickCount":{"interval":"month","step":1},"tickSize":4}},
   "y":{"field":"v","type":"quantitative","scale":{"domain":[0,75],"nice":false},"axis":{"orient":"left","title":"Snow cover fraction (%)","values":[0,20,40,60],"tickCount":20,"tickSize":4,"labelFontSize":8.5,"titleFontSize":9.5,"labelPadding":2.5,"titlePadding":6}},
   "color":{"field":"series","type":"nominal","scale":{"domain":["MOD3","MOD2","MOD1","CTL","Obs"],"range":["#FFA500","#A020F0","#FF0000","#0000FF","#555555"]},"legend":null},
   "strokeDash":{"field":"series","type":"nominal","scale":{"domain":["MOD3","MOD2","MOD1","CTL","Obs"],"range":[[5,2.5],[5,2,1.5,2],[1.5,1.5],[7,3],[1,0]]},"legend":null}
  }},
 {"data":{"name":"main"},"transform":[{"filter":"datum.p === 'b'"}],
  "mark":{"type":"point","shape":"circle","size":13,"strokeWidth":0.8,"color":"#606060","filled":false,"opacity":1},
  "encoding":{"x":{"field":"d","type":"temporal"},"y":{"field":"Obs","type":"quantitative","axis":{"orient":"left","values":[5,10,15,25,30,35,45,50,55,65,70,75],"tickCount":100,"labels":false,"tickSize":2,"domain":false,"title":null}}}},
 {"data":{"name":"nums"},"transform":[{"filter":"datum.p === 'b'"}],
  "mark":{"type":"text","fontSize":11,"align":"center","baseline":"middle"},
  "encoding":{"x":{"datum":{"year":2004,"month":7,"date":1,"utc":true},"type":"temporal"},"y":{"field":"v","type":"quantitative","axis":null},"text":{"field":"t"},
   "fill":{"field":"series","type":"nominal","scale":{"domain":["MOD3","MOD2","MOD1","CTL"],"range":["#F5871F","#A030F0","#FF1010","#2020F0"]},"legend":null}}},
 {"data":{"values":[{"t":"b"}]},"mark":{"type":"text","fontSize":16,"fontWeight":"bold","align":"center","baseline":"middle","color":"#000"},
  "encoding":{"x":{"datum":{"year":2002,"month":2,"date":1,"utc":true},"type":"temporal"},"y":{"datum":66.3,"type":"quantitative","axis":null},"text":{"field":"t"}}},
 {"data":{"values":[{"t":"Barren land"}]},"mark":{"type":"text","fontSize":11.6,"align":"left","baseline":"middle","color":"#000"},
  "encoding":{"x":{"datum":{"year":2010,"month":2,"date":26,"utc":true},"type":"temporal"},"y":{"datum":64.7,"type":"quantitative","axis":null},"text":{"field":"t"}}}
]},
{"width":454,"height":104,"resolve":{"axis":{"y":"independent"}},"layer":[
 {"data":{"name":"main"},"transform":[{"filter":"datum.p === 'c'"},{"fold":["CTL","MOD1","MOD2","MOD3"],"as":["series","v"]}],
  "mark":{"type":"line","strokeWidth":1.3},
  "encoding":{
   "x":{"field":"d","type":"temporal","scale":{"type":"utc","domain":[{"year":2002,"month":1,"date":1,"utc":true},{"year":2011,"month":12,"date":1,"utc":true}]},"axis":{"title":"Date","titleFontSize":8.5,"titlePadding":8,"labelAngle":270,"labelAlign":"right","labelBaseline":"middle","labelFontSize":7,"labelPadding":2,"labelOverlap":false,"labelBound":false,"labelFlush":false,"labelExpr":"(utcmonth(datum.value) == 1 || utcmonth(datum.value) == 7) ? utcFormat(datum.value, '%m /%Y') : ''","tickCount":{"interval":"month","step":1},"tickSize":4}},
   "y":{"field":"v","type":"quantitative","scale":{"domain":[0,75],"nice":false},"axis":{"orient":"left","title":"Snow cover fraction (%)","values":[0,20,40,60],"tickCount":20,"tickSize":4,"labelFontSize":8.5,"titleFontSize":9.5,"labelPadding":2.5,"titlePadding":6}},
   "color":{"field":"series","type":"nominal","scale":{"domain":["MOD3","MOD2","MOD1","CTL","Obs"],"range":["#FFA500","#A020F0","#FF0000","#0000FF","#555555"]},
     "legend":{"orient":"none","legendX":205.5,"legendY":1,"title":null,"strokeColor":"#333","padding":2,"symbolType":"M-3.5,0H3.5","symbolSize":49,"symbolStrokeWidth":1.5,"symbolOffset":8,"labelOffset":23,"labelFontSize":9,"labelColor":"#000","rowPadding":0.4,
       "encode":{"symbols":{"update":{"shape":{"signal":"datum.value === 'Obs' ? 'M0.6,0A0.6,0.6 0 1,1 -0.6,0A0.6,0.6 0 1,1 0.6,0' : 'M-3.5,0H3.5'"},"fill":{"value":"transparent"},"strokeWidth":{"signal":"datum.value === 'Obs' ? 0.8 : 1.5"}}}}}},
   "strokeDash":{"field":"series","type":"nominal","scale":{"domain":["MOD3","MOD2","MOD1","CTL","Obs"],"range":[[5,2.5],[5,2,1.5,2],[1.5,1.5],[7,3],[1,0]]},
     "legend":{"orient":"none","legendX":205.5,"legendY":1,"title":null,"strokeColor":"#333","padding":2,"symbolType":"M-3.5,0H3.5","symbolSize":49,"symbolStrokeWidth":1.5,"symbolOffset":8,"labelOffset":23,"labelFontSize":9,"labelColor":"#000","rowPadding":0.4}}
  }},
 {"data":{"name":"main"},"transform":[{"filter":"datum.p === 'c'"}],
  "mark":{"type":"point","shape":"circle","size":13,"strokeWidth":0.8,"color":"#606060","filled":false,"opacity":1},
  "encoding":{"x":{"field":"d","type":"temporal"},"y":{"field":"Obs","type":"quantitative","axis":{"orient":"left","values":[5,10,15,25,30,35,45,50,55,65,70,75],"tickCount":100,"labels":false,"tickSize":2,"domain":false,"title":null}}}},
 {"data":{"name":"nums"},"transform":[{"filter":"datum.p === 'c'"}],
  "mark":{"type":"text","fontSize":11,"align":"center","baseline":"middle"},
  "encoding":{"x":{"datum":{"year":2004,"month":7,"date":1,"utc":true},"type":"temporal"},"y":{"field":"v","type":"quantitative","axis":null},"text":{"field":"t"},
   "fill":{"field":"series","type":"nominal","scale":{"domain":["MOD3","MOD2","MOD1","CTL"],"range":["#F5871F","#A030F0","#FF1010","#2020F0"]},"legend":null}}},
 {"data":{"values":[{"t":"c"}]},"mark":{"type":"text","fontSize":16,"fontWeight":"bold","align":"center","baseline":"middle","color":"#000"},
  "encoding":{"x":{"datum":{"year":2002,"month":2,"date":1,"utc":true},"type":"temporal"},"y":{"datum":68.2,"type":"quantitative","axis":null},"text":{"field":"t"}}},
 {"data":{"values":[{"t":"Grass land"}]},"mark":{"type":"text","fontSize":11.6,"align":"left","baseline":"middle","color":"#000"},
  "encoding":{"x":{"datum":{"year":2010,"month":2,"date":26,"utc":true},"type":"temporal"},"y":{"datum":65.3,"type":"quantitative","axis":null},"text":{"field":"t"}}}
]}
]
}
